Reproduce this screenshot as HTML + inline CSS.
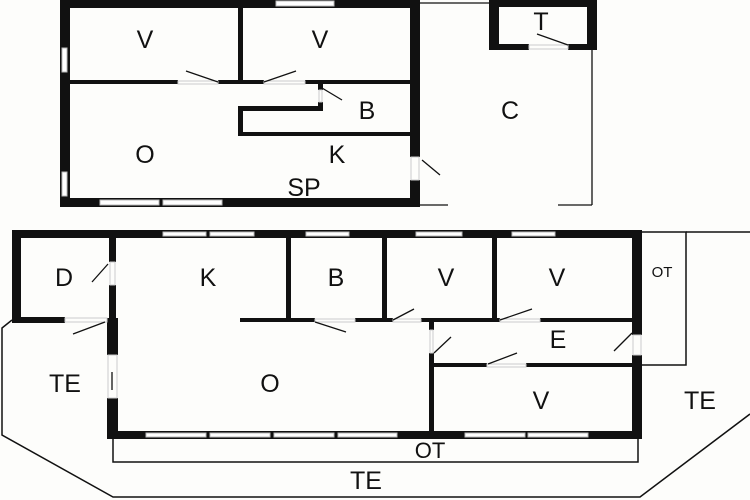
<!DOCTYPE html>
<html><head><meta charset="utf-8"><style>
html,body{margin:0;padding:0;background:#fdfdfb;}
svg{display:block;}
text{font-family:"Liberation Sans",sans-serif;font-size:25px;fill:#111;text-anchor:middle;}
</style></head><body>
<svg width="750" height="500" viewBox="0 0 750 500">
<g fill="#111" stroke="none">
<rect x="60" y="0" width="360" height="8"/>
<rect x="60" y="0" width="10" height="207"/>
<rect x="410" y="0" width="10" height="157"/>
<rect x="410" y="180" width="10" height="27"/>
<rect x="60" y="198" width="360" height="9"/>
<rect x="238" y="5" width="5" height="78"/>
<rect x="70" y="80" width="108" height="4"/>
<rect x="218" y="80" width="46" height="4"/>
<rect x="305" y="80" width="105" height="4"/>
<rect x="318" y="84" width="5" height="6"/>
<rect x="318" y="102" width="5" height="9"/>
<rect x="238" y="106" width="85" height="5"/>
<rect x="238" y="106" width="5" height="30"/>
<rect x="238" y="132" width="172" height="4"/>
<rect x="489" y="0" width="108" height="7"/>
<rect x="489" y="0" width="10" height="50"/>
<rect x="587" y="0" width="10" height="50"/>
<rect x="489" y="44" width="40" height="6"/>
<rect x="568" y="44" width="29" height="6"/>
<rect x="12" y="230" width="630" height="8"/>
<rect x="12" y="230" width="9" height="93"/>
<rect x="12" y="317" width="53" height="6"/>
<rect x="109" y="230" width="7" height="32"/>
<rect x="109" y="285" width="7" height="38"/>
<rect x="107" y="318" width="11" height="37"/>
<rect x="107" y="398" width="11" height="40"/>
<rect x="107" y="431" width="535" height="8"/>
<rect x="632" y="230" width="10" height="105"/>
<rect x="632" y="355" width="10" height="84"/>
<rect x="286" y="230" width="5" height="92"/>
<rect x="382" y="230" width="5" height="92"/>
<rect x="492" y="230" width="5" height="92"/>
<rect x="240" y="318" width="75" height="4"/>
<rect x="355" y="318" width="38" height="4"/>
<rect x="421" y="318" width="79" height="4"/>
<rect x="540" y="318" width="92" height="4"/>
<rect x="429" y="318" width="5" height="12"/>
<rect x="429" y="353" width="5" height="85"/>
<rect x="431" y="363" width="56" height="4"/>
<rect x="526" y="363" width="106" height="4"/>
</g>
<g fill="#fff" stroke="#bbb" stroke-width="1">
<rect x="276" y="1" width="58" height="5"/>
<rect x="62" y="48" width="5" height="24"/>
<rect x="62" y="172" width="5" height="24"/>
<rect x="100" y="200" width="59" height="5"/>
<rect x="163" y="200" width="59" height="5"/>
<rect x="163" y="232" width="43" height="4"/>
<rect x="210" y="232" width="44" height="4"/>
<rect x="306" y="232" width="43" height="4"/>
<rect x="416" y="232" width="46" height="4"/>
<rect x="512" y="232" width="43" height="4"/>
<rect x="146" y="433" width="60" height="4"/>
<rect x="210" y="433" width="60" height="4"/>
<rect x="274" y="433" width="60" height="4"/>
<rect x="338" y="433" width="59" height="4"/>
<rect x="465" y="433" width="60" height="4"/>
<rect x="528" y="433" width="60" height="4"/>
</g>
<g fill="none" stroke="#ccc" stroke-width="1">
<rect x="178" y="81" width="40" height="3"/>
<rect x="264" y="81" width="41" height="3"/>
<rect x="319" y="90" width="3" height="12"/>
<rect x="411" y="157" width="8" height="23"/>
<rect x="529" y="45" width="39" height="4"/>
<rect x="110" y="262" width="5" height="23"/>
<rect x="65" y="318" width="42" height="4"/>
<rect x="108" y="355" width="9" height="43"/>
<rect x="315" y="319" width="40" height="3"/>
<rect x="393" y="319" width="28" height="3"/>
<rect x="500" y="319" width="40" height="3"/>
<rect x="430" y="330" width="3" height="23"/>
<rect x="487" y="364" width="39" height="3"/>
<rect x="633" y="335" width="8" height="20"/>
</g>
<g fill="none" stroke="#111" stroke-width="1.3">
<line x1="420" y1="3" x2="489" y2="3"/>
<line x1="592" y1="50" x2="592" y2="205"/>
<line x1="420" y1="205" x2="448" y2="205"/>
<line x1="558" y1="205" x2="592" y2="205"/>
<polyline points="113,438 113,462 638,462 638,438" stroke-width="1.5"/>
<polyline points="642,232 686,232 686,365 642,365" stroke-width="1.5"/>
<polyline points="686,232 750,232" stroke-width="1.5"/>
<polyline points="12,320 2,328 2,435 113,497 640,497 750,414" stroke-width="1.5"/>
<line x1="112" y1="372" x2="112" y2="390"/>
<line x1="186" y1="71" x2="218" y2="82"/>
<line x1="264" y1="82" x2="296" y2="71"/>
<line x1="322" y1="88" x2="342" y2="100"/>
<line x1="422" y1="160" x2="440" y2="175"/>
<line x1="537" y1="34" x2="568" y2="45"/>
<line x1="92" y1="282" x2="108" y2="264"/>
<line x1="73" y1="334" x2="105" y2="322"/>
<line x1="315" y1="322" x2="346" y2="332"/>
<line x1="393" y1="320" x2="414" y2="309"/>
<line x1="500" y1="320" x2="532" y2="309"/>
<line x1="434" y1="353" x2="451" y2="337"/>
<line x1="488" y1="364" x2="517" y2="353"/>
<line x1="614" y1="351" x2="632" y2="333"/>
</g>
<text x="145" y="48">V</text>
<text x="320" y="48">V</text>
<text x="367" y="119">B</text>
<text x="145" y="163">O</text>
<text x="337" y="163">K</text>
<text x="304" y="196">SP</text>
<text x="510" y="119">C</text>
<text x="541" y="30">T</text>
<text x="64" y="286">D</text>
<text x="208" y="286">K</text>
<text x="336" y="286">B</text>
<text x="446" y="286">V</text>
<text x="557" y="286">V</text>
<text x="558" y="348">E</text>
<text x="270" y="392">O</text>
<text x="541" y="409">V</text>
<text x="65" y="392">TE</text>
<text x="700" y="409">TE</text>
<text x="366" y="489">TE</text>
<text x="430" y="458" style="font-size:22px">OT</text>
<text x="662" y="277" style="font-size:15px">OT</text>
</svg>
</body></html>
